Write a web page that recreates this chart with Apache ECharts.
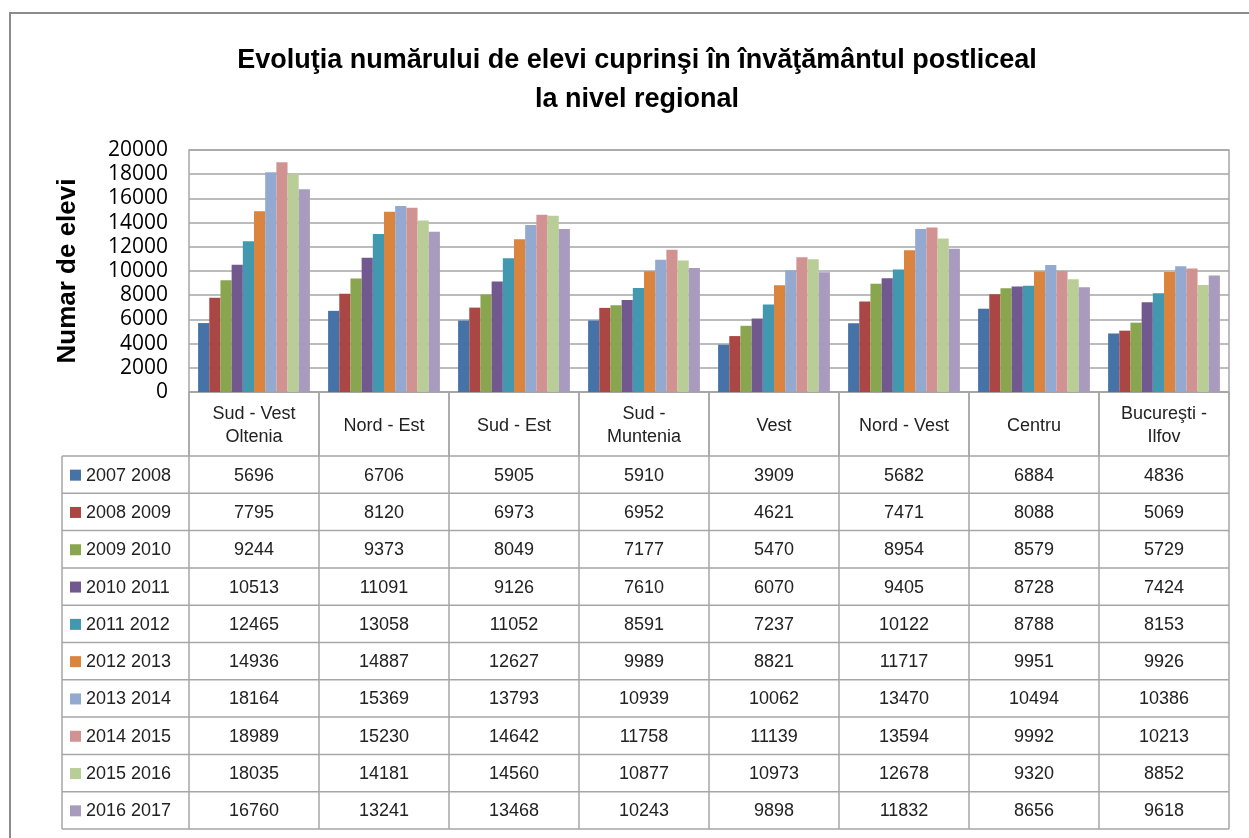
<!DOCTYPE html>
<html>
<head>
<meta charset="utf-8">
<script src="https://cdn.jsdelivr.net/npm/echarts@6/dist/echarts.min.js"></script>
<style>
	html, body { margin: 0; padding: 0; background: #fff; }
	#chart { width: 1249px; height: 838px; }
</style>
</head>
<body>
<div id="chart"></div>
<script>
	// regiuni (categorii)
	var regions = ['Sud - Vest\nOltenia', 'Nord - Est', 'Sud - Est', 'Sud -\nMuntenia', 'Vest', 'Nord - Vest', 'Centru', 'Bucureşti -\nIlfov'];
	var years = ['2007 2008', '2008 2009', '2009 2010', '2010 2011', '2011 2012', '2012 2013', '2013 2014', '2014 2015', '2015 2016', '2016 2017'];

	var y2007 = [5696, 6706, 5905, 5910, 3909, 5682, 6884, 4836];
	var y2008 = [7795, 8120, 6973, 6952, 4621, 7471, 8088, 5069];
	var y2009 = [9244, 9373, 8049, 7177, 5470, 8954, 8579, 5729];
	var y2010 = [10513, 11091, 9126, 7610, 6070, 9405, 8728, 7424];
	var y2011 = [12465, 13058, 11052, 8591, 7237, 10122, 8788, 8153];
	var y2012 = [14936, 14887, 12627, 9989, 8821, 11717, 9951, 9926];
	var y2013 = [18164, 15369, 13793, 10939, 10062, 13470, 10494, 10386];
	var y2014 = [18989, 15230, 14642, 11758, 11139, 13594, 9992, 10213];
	var y2015 = [18035, 14181, 14560, 10877, 10973, 12678, 9320, 8852];
	var y2016 = [16760, 13241, 13468, 10243, 9898, 11832, 8656, 9618];
	var values = [y2007, y2008, y2009, y2010, y2011, y2012, y2013, y2014, y2015, y2016];

	var colors = ['#4572A7', '#AA4643', '#89A54E', '#71588F', '#4198AF', '#DB843D', '#93A9CF', '#D19392', '#B9CD96', '#A99BBD'];

	var font = '"Liberation Sans", Arial, sans-serif';
	var lineColor = '#a6a6a6';

	var chart = echarts.init(document.getElementById('chart'));

	var option = {
		animation: false,
		color: colors,
		title: {
			text: 'Evoluţia numărului de elevi cuprinşi în învăţământul postliceal\nla nivel regional',
			left: 632,
			textAlign: 'center',
			top: 36,
			textStyle: {
				fontFamily: font,
				fontSize: 27,
				fontWeight: 'bold',
				color: '#000',
				lineHeight: 39
			}
		},
		grid: {
			left: 189,
			right: 20,
			top: 150,
			bottom: 446,
			show: true,
			borderColor: lineColor,
			borderWidth: 1.5
		},
		xAxis: {
			type: 'category',
			data: regions,
			axisLine: { lineStyle: { color: lineColor, width: 1.5 } },
			axisTick: { show: true, interval: 0, length: 64, lineStyle: { color: lineColor, width: 1.5 } },
			axisLabel: { show: false }
		},
		yAxis: {
			type: 'value',
			min: 0,
			max: 20000,
			interval: 2000,
			name: 'Numar de elevi',
			nameLocation: 'middle',
			nameGap: 108,
			nameRotate: 90,
			nameTextStyle: { fontFamily: font, fontSize: 26, fontWeight: 'bold', color: '#000' },
			axisLine: { show: false },
			axisTick: { show: false },
			axisLabel: {
				fontFamily: '"Open Sans", ' + font,
				fontSize: 21,
				color: '#000',
				margin: 21,
				formatter: function (v) { return String(v); }
			},
			splitLine: { lineStyle: { color: lineColor, width: 1.5 } }
		},
		series: years.map(function (y, i) {
			return {
				name: y,
				type: 'bar',
				data: values[i],
				barGap: '0%',
				barCategoryGap: '14%'
			};
		})
	};

	chart.setOption(option);

	// tabelul de date sub grafic
	var tableTop = 456, rowH = 37.3, legLeft = 62, plotLeft = 189, plotRight = 1229, plotBottom = 392;
	var g = [];
	// chenarul exterior
	g.push({ type: 'rect', shape: { x: 10, y: 13, width: 1400, height: 1000 }, style: { fill: null, stroke: '#8c8c8c', lineWidth: 2 }, z: 0 });
	// linii orizontale
	for (var r = 0; r <= years.length; r++) {
		var yy = tableTop + r * rowH;
		g.push({ type: 'line', shape: { x1: legLeft, y1: yy, x2: plotRight, y2: yy }, style: { stroke: lineColor, lineWidth: 1.5 } });
	}
	// linii verticale
	var tableBottom = tableTop + years.length * rowH;
	g.push({ type: 'line', shape: { x1: legLeft, y1: tableTop, x2: legLeft, y2: tableBottom }, style: { stroke: lineColor, lineWidth: 1.5 } });
	var colW = (plotRight - plotLeft) / regions.length;
	for (var c = 0; c <= regions.length; c++) {
		var xx = plotLeft + c * colW;
		g.push({ type: 'line', shape: { x1: xx, y1: plotBottom, x2: xx, y2: tableBottom }, style: { stroke: lineColor, lineWidth: 1.5 } });
	}
	// antet categorii
	regions.forEach(function (name, ci) {
		var cx = chart.convertToPixel({ xAxisIndex: 0 }, ci);
		g.push({ type: 'text', style: { text: name, x: cx, y: (plotBottom + tableTop) / 2 + 2, align: 'center', verticalAlign: 'middle', font: '18px ' + font, lineHeight: 23, fill: '#222' } });
	});
	// legenda + valori
	years.forEach(function (y, ri) {
		var cy = tableTop + ri * rowH + rowH / 2;
		g.push({ type: 'rect', shape: { x: 70, y: cy - 5, width: 11, height: 11 }, style: { fill: colors[ri] } });
		g.push({ type: 'text', style: { text: y, x: 86, y: cy + 1, align: 'left', verticalAlign: 'middle', font: '18px ' + font, fill: '#222' } });
		values[ri].forEach(function (v, ci) {
			var cx = chart.convertToPixel({ xAxisIndex: 0 }, ci);
			g.push({ type: 'text', style: { text: String(v), x: cx, y: cy + 1, align: 'center', verticalAlign: 'middle', font: '18px ' + font, fill: '#222' } });
		});
	});

	chart.setOption({ graphic: g });
</script>
</body>
</html>
